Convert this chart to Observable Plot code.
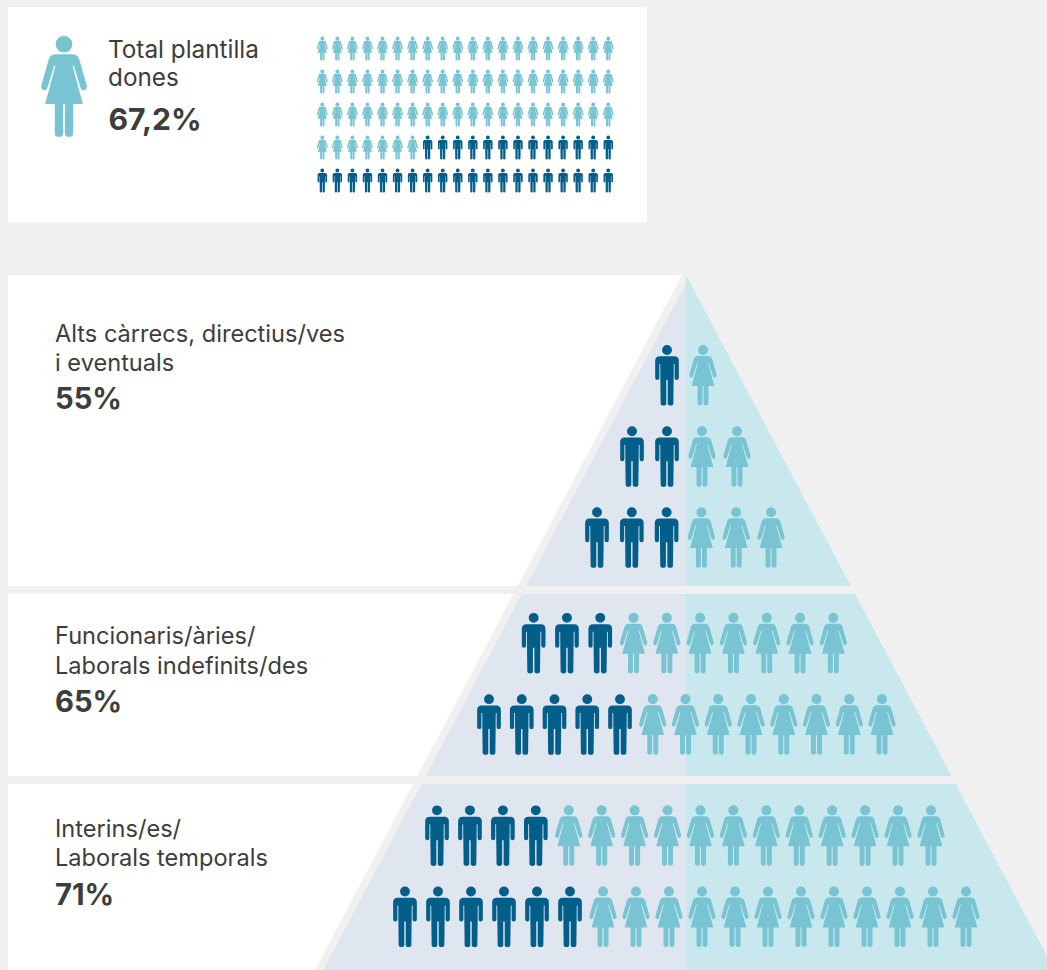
<!DOCTYPE html>
<html>
<head>
<meta charset="utf-8">
<script src="https://cdn.jsdelivr.net/npm/d3@7"></script>
<script src="https://cdn.jsdelivr.net/npm/@observablehq/plot@0.6"></script>
<style>
html,body{margin:0;padding:0;background:#f0f0f0;width:1047px;height:970px;overflow:hidden}
svg{display:block;background:transparent}
</style>
</head>
<body>
<div id="chart"></div>
<script>
// ---- data ----
const totalShareLabel = "67,2%";
const totalTitleLines = ["Total plantilla", "dones"];
const waffleWomen = 67;
const waffleTotal = 100;
const waffleColumns = 20;

const levelLines = [
  ["Alts càrrecs, directius/ves", "i eventuals"],
  ["Funcionaris/àries/", "Laborals indefinits/des"],
  ["Interins/es/", "Laborals temporals"]
];
const levelShares = ["55%", "65%", "71%"];

const rowMen   = [1, 2, 3, 3, 5, 4, 6];
const rowWomen = [1, 2, 3, 7, 8, 12, 12];

// ---- layout (data space of the page-sized scales) ----
const rowMiddle  = [374.9, 456.1, 537.1, 642.7, 724, 835.2, 916.4];
const rowCentre  = [684.5, 684, 683.5, 683, 685, 683.5, 685];
const rowSpacing = [36, 35, 34.8, 33.3, 32.75, 32.93, 33];
const bandTop    = [275, 594, 784];
const bandBottom = [586, 776, 970];
const levelBaselines = [[341.8, 370.2, 408.7], [643.5, 673, 711], [836.5, 865.5, 904]];
const slope = 0.528;

// ---- pictograms, in units where the figure is 100 tall ----
function figure(commands) {
  return {
    draw(ctx, size) {
      const k = Math.sqrt(size / Math.PI) / 50;
      for (const [c, ...a] of commands) {
        if (c === "M") ctx.moveTo(a[0]*k, a[1]*k);
        else if (c === "L") ctx.lineTo(a[0]*k, a[1]*k);
        else if (c === "Q") ctx.quadraticCurveTo(a[0]*k, a[1]*k, a[2]*k, a[3]*k);
        else if (c === "O") { ctx.moveTo((a[0]+a[2])*k, a[1]*k); ctx.arc(a[0]*k, a[1]*k, a[2]*k, 0, 2*Math.PI); }
        else if (c === "Z") ctx.closePath();
      }
    }
  };
}
const manSymbol = figure([
  ["O", 0, -42, 8.2],
  ["M", -12, -31.5], ["L", 12, -31.5], ["Q", 19.6, -31.5, 19.6, -24],
  ["L", 19.6, 4], ["Q", 19.6, 7.6, 16.1, 7.6], ["Q", 12.6, 7.6, 12.6, 4],
  ["L", 12.6, -19], ["L", 11.2, -19], ["L", 11, 7], ["L", 10.5, 46.6],
  ["Q", 10.5, 50, 5.8, 50], ["Q", 1.2, 50, 1.2, 46.6], ["L", 1.2, 7.5], ["L", -1.2, 7.5],
  ["L", -1.2, 46.6], ["Q", -1.2, 50, -5.8, 50], ["Q", -10.5, 50, -10.5, 46.6],
  ["L", -11, 7], ["L", -11.2, -19], ["L", -12.6, -19], ["L", -12.6, 4],
  ["Q", -12.6, 7.6, -16.1, 7.6], ["Q", -19.6, 7.6, -19.6, 4],
  ["L", -19.6, -24], ["Q", -19.6, -31.5, -12, -31.5], ["Z"]
]);
const womanSymbol = figure([
  ["O", 0, -42, 8.3],
  ["M", -8, -32], ["L", 8, -32], ["Q", 13.6, -32, 15.2, -27],
  ["L", 22.4, -1.5], ["Q", 23.4, 2.5, 20.2, 3.6], ["Q", 17.4, 4.2, 16.4, 1],
  ["L", 9.6, -21], ["L", 8.6, -20], ["L", 18.8, 17.4],
  ["L", 9.1, 17.4], ["L", 9.1, 46.6], ["Q", 9.1, 50, 5, 50], ["Q", 0.9, 50, 0.9, 46.6],
  ["L", 0.9, 17.4], ["L", -0.9, 17.4],
  ["L", -0.9, 46.6], ["Q", -0.9, 50, -5, 50], ["Q", -9.1, 50, -9.1, 46.6],
  ["L", -9.1, 17.4], ["L", -18.8, 17.4], ["L", -8.6, -20], ["L", -9.6, -21],
  ["L", -16.4, 1], ["Q", -17.4, 4.2, -20.2, 3.6], ["Q", -23.4, 2.5, -22.4, -1.5],
  ["L", -15.2, -27], ["Q", -13.6, -32, -8, -32], ["Z"]
]);

// ---- tables built from the arrays ----
const people = rowMen.flatMap((m, r) => {
  const n = m + rowWomen[r];
  return d3.range(n).map(i => ({
    x: rowCentre[r] + rowSpacing[r] * (i - (n - 1) / 2),
    y: rowMiddle[r],
    woman: i >= m
  }));
});
const waffle = d3.range(waffleTotal).map(i => ({
  x: 321.8 + 15.05 * (i % waffleColumns),
  y: 48 + 33 * Math.floor(i / waffleColumns),
  woman: i < waffleWomen
}));
const edge = (y0, k) => y => y0 - (y - 275) * k;
const whiteEdge = edge(682, slope);
const bands = bandTop.flatMap((t, b) => [t, bandBottom[b]].map(y => ({b, y})));
const blueBands = bands.map(d => ({...d, y: Math.max(d.y, 283)}));
const levelRegular = levelLines.flatMap((ls, i) => ls.map((text, j) => ({text, y: levelBaselines[i][j]})));
const levelBold = levelShares.map((text, i) => ({text, y: levelBaselines[i][2]}));

const font = "Inter, sans-serif";
const ink = "#3d3d3d";
const regular = {fontFamily: font, fontSize: 23.6, fill: ink, textAnchor: "start", lineAnchor: "bottom"};
const regularTop = {...regular, fontSize: 24.3};
const bold = {fontFamily: font, fontSize: 29.2, fontWeight: 700, fill: ink, textAnchor: "start", lineAnchor: "bottom"};
const boldTop = {...bold, fontSize: 30.2};

const plot = Plot.plot({
  width: 1047, height: 970, margin: 0,
  style: {background: "transparent"},
  x: {axis: null, domain: [0, 1047], range: [0, 1047]},
  y: {axis: null, domain: [0, 970], range: [0, 970]},
  marks: [
    Plot.rect([{x1: 8, x2: 647, y1: 7, y2: 222}], {x1: "x1", x2: "x2", y1: "y1", y2: "y2", fill: "#ffffff"}),
    Plot.areaX(bands, {y: "y", x1: 8, x2: d => whiteEdge(d.y), z: "b", fill: "#ffffff", curve: "linear"}),
    Plot.areaX(blueBands, {y: "y", x1: d => 686 - (d.y - 283) * slope, x2: 686, z: "b", fill: "#dfe6f0", curve: "linear"}),
    Plot.areaX(bands, {y: "y", x1: 686, x2: d => 686 + (d.y - 275) * 0.53, z: "b", fill: "#c9e8ed", curve: "linear"}),

    Plot.dot(people.filter(d => !d.woman), {x: "x", y: "y", r: 30.2, symbol: manSymbol, fill: "#035e8a", stroke: "none"}),
    Plot.dot(people.filter(d => d.woman), {x: "x", y: "y", r: 30.2, symbol: womanSymbol, fill: "#78c4d3", stroke: "none"}),
    Plot.dot(waffle.filter(d => !d.woman), {x: "x", y: "y", r: 12, symbol: manSymbol, fill: "#035e8a", stroke: "none"}),
    Plot.dot(waffle.filter(d => d.woman), {x: "x", y: "y", r: 12, symbol: womanSymbol, fill: "#78c4d3", stroke: "none"}),
    Plot.dot([{x: 63.5, y: 86}], {x: "x", y: "y", r: 50.3, symbol: womanSymbol, fill: "#78c4d3", stroke: "none"}),

    Plot.text(totalTitleLines, {text: d => d, x: 107.5, y: (d, i) => [57, 85.5][i], ...regularTop}),
    Plot.text([totalShareLabel], {text: d => d, x: 108, y: 129, ...boldTop}),
    Plot.text(levelRegular, {text: "text", x: 54.5, y: "y", ...regular}),
    Plot.text(levelBold, {text: "text", x: 54.5, y: "y", ...bold})
  ]
});
document.getElementById("chart").append(plot);
</script>
</body>
</html>
